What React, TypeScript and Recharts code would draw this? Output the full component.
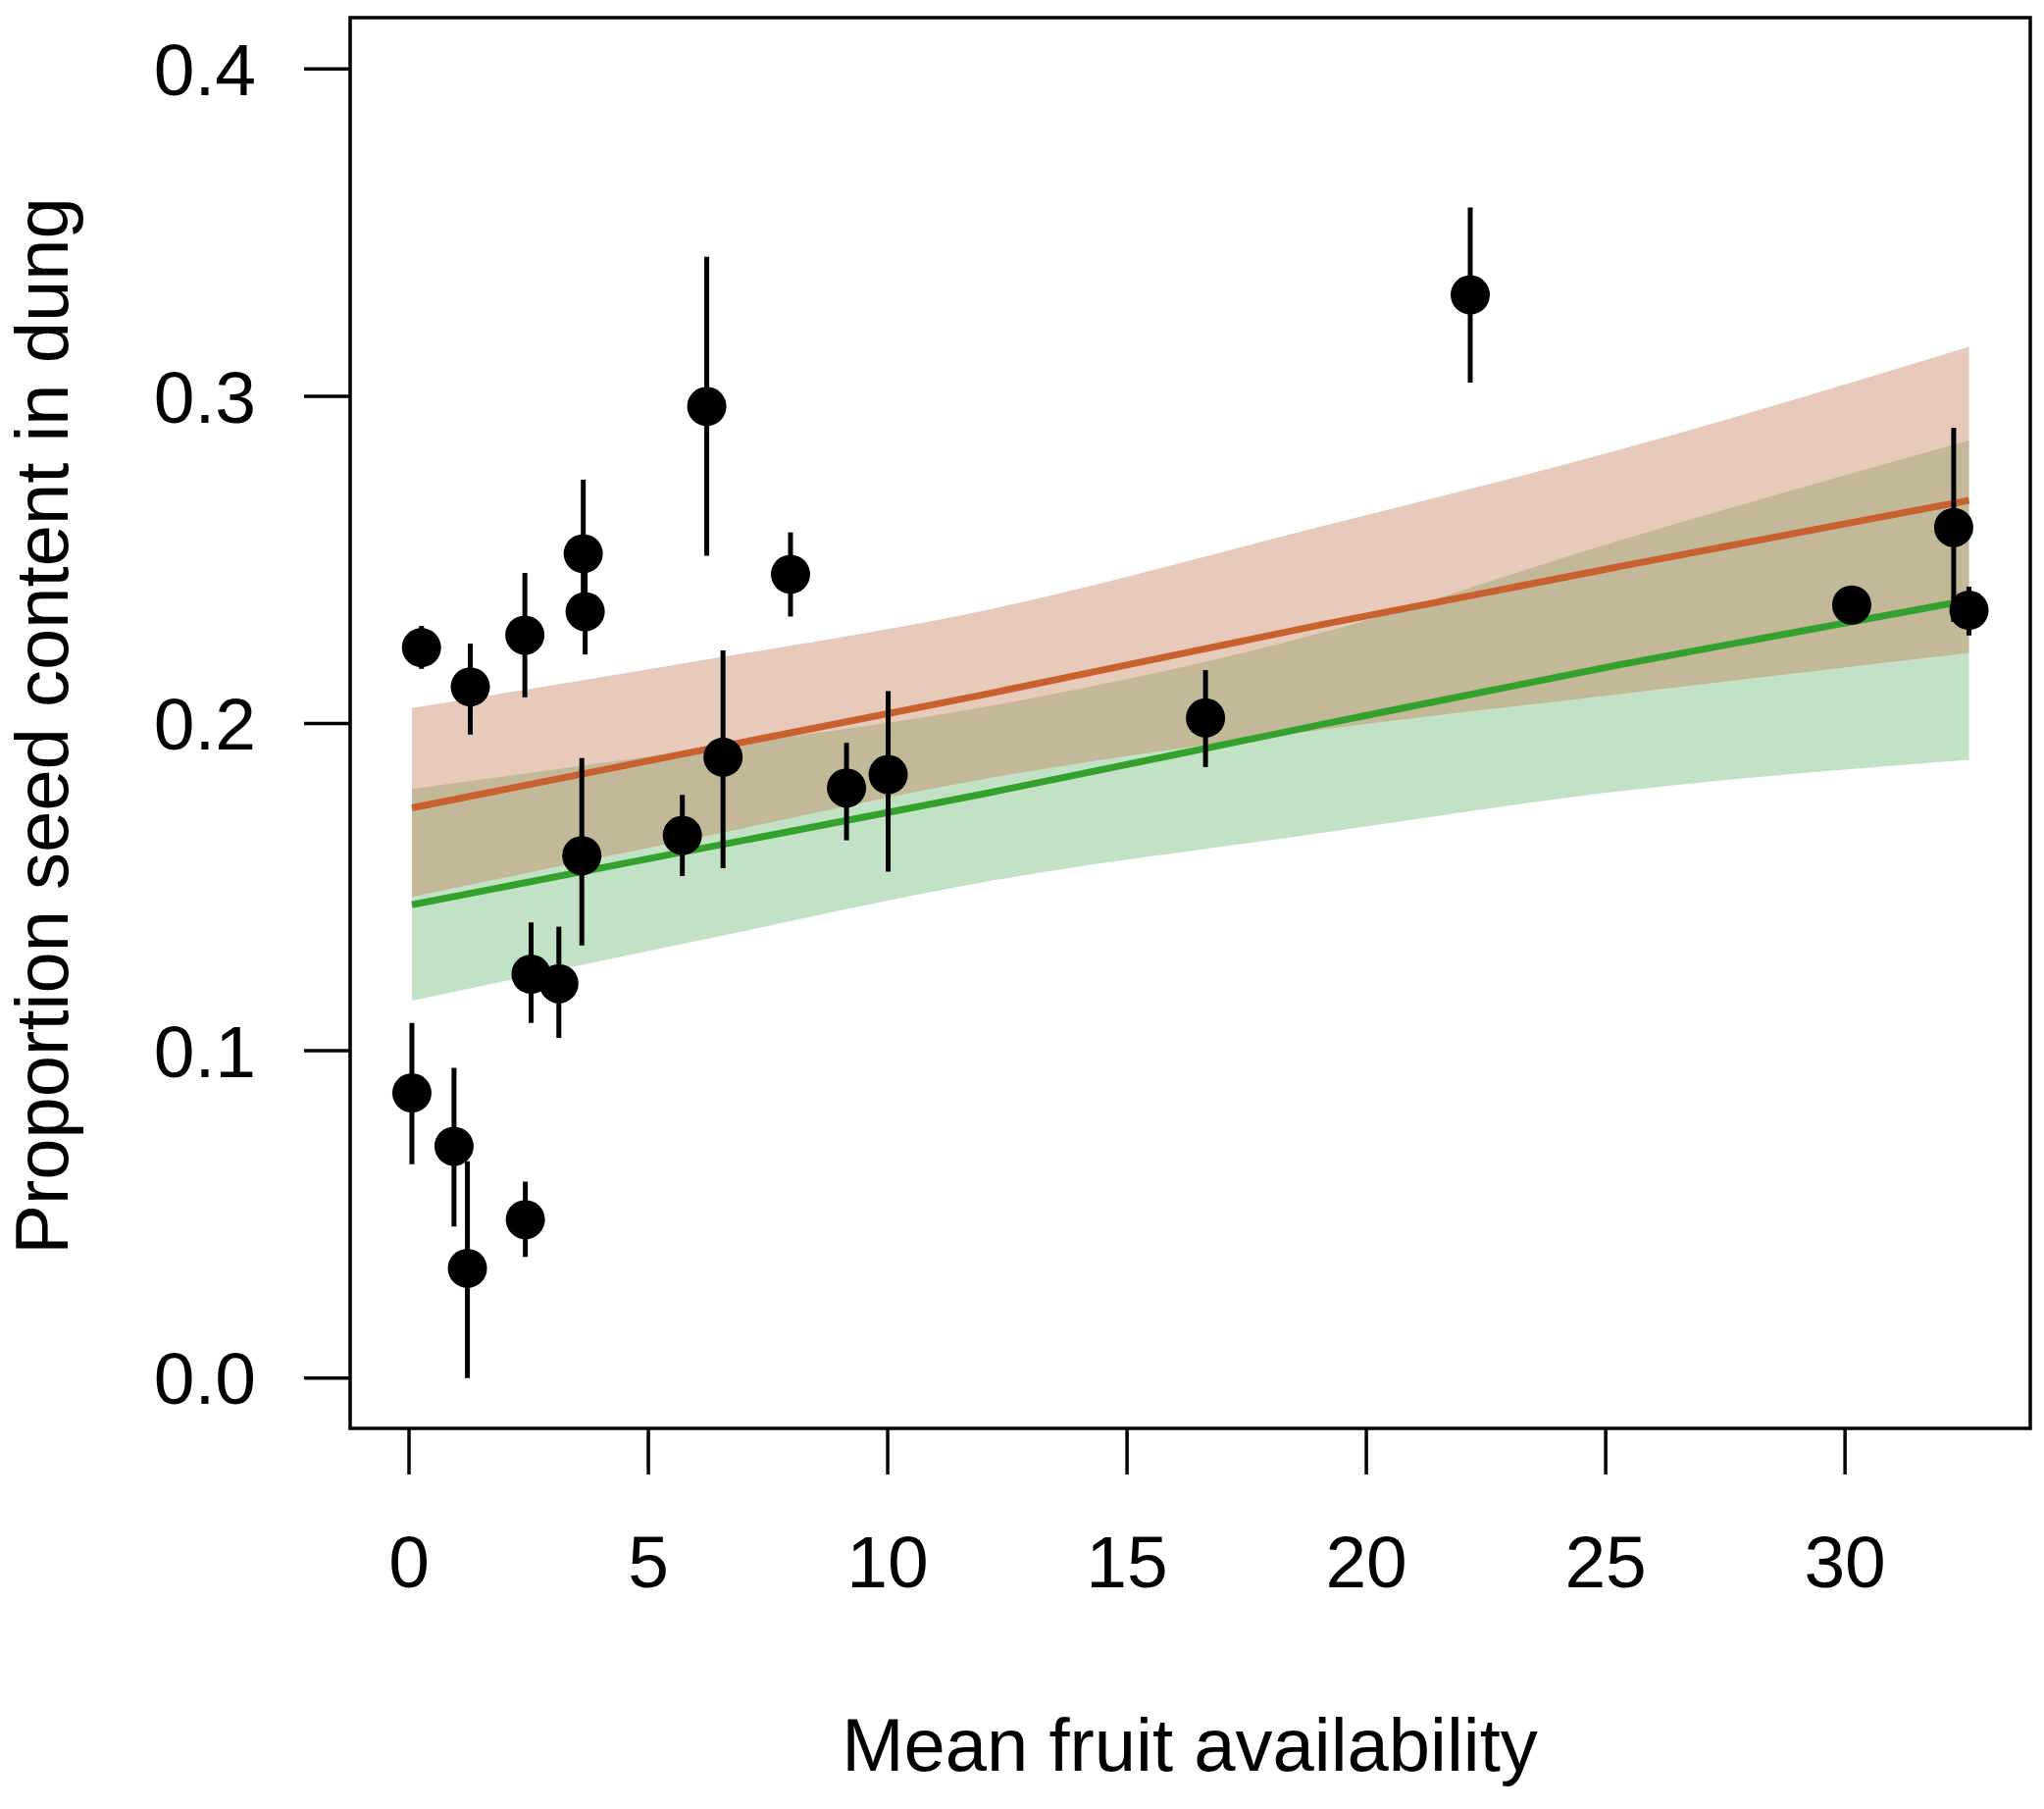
import React from "react";
import {
  ComposedChart,
  Area,
  Line,
  Scatter,
  ErrorBar,
  XAxis,
  YAxis,
  ReferenceArea,
} from "recharts";

// ---- Fitted curves and confidence bands ----
const bandX = [0.06, 6, 12, 19, 25.3, 32.59];
const orangeFit = [0.1742, 0.1915, 0.2088, 0.23, 0.248, 0.2682];
const orangeLow = [0.147, 0.165, 0.183, 0.198, 0.209, 0.2216];
const orangeHigh = [0.2047, 0.219, 0.2345, 0.26, 0.2837, 0.3151];
const greenFit = [0.1446, 0.1615, 0.1785, 0.1995, 0.218, 0.2377];
const greenLow = [0.1153, 0.1335, 0.1515, 0.1664, 0.1793, 0.1889];
const greenHigh = [0.18, 0.192, 0.205, 0.2275, 0.256, 0.2865];

// ---- Observed points with error bars ----
const ptX = [
  0.06, 0.26, 0.94, 1.22, 1.28, 2.42, 2.43, 2.55, 3.13, 3.61, 3.64, 3.68,
  5.71, 6.22, 6.56, 7.97, 9.14, 10.01, 16.64, 22.17, 30.14, 32.27, 32.59,
];
const ptY = [
  0.0871, 0.2232, 0.0708, 0.0335, 0.2112, 0.227, 0.0484, 0.1234, 0.1205,
  0.1596, 0.2519, 0.2342, 0.1658, 0.2969, 0.1897, 0.2456, 0.1803, 0.1844,
  0.2017, 0.331, 0.2362, 0.2599, 0.2346,
];
const ptLow = [
  0.0653, 0.2167, 0.0463, 0.0, 0.1966, 0.208, 0.037, 0.1085, 0.1039, 0.1322,
  0.239, 0.2211, 0.1534, 0.2513, 0.1558, 0.2327, 0.1643, 0.1547, 0.1867,
  0.3042, 0.233, 0.231, 0.2269,
];
const ptHigh = [
  0.1085, 0.2298, 0.0948, 0.0662, 0.2244, 0.246, 0.06, 0.1392, 0.1379, 0.1894,
  0.2745, 0.248, 0.1782, 0.3426, 0.2223, 0.2584, 0.1941, 0.2099, 0.2163,
  0.3577, 0.2395, 0.2904, 0.2418,
];

// ---- Axes ----
const xTicks = [0, 5, 10, 15, 20, 25, 30];
const yTicks = [0, 0.1, 0.2, 0.3, 0.4];
const xDomain: [number, number] = [-1.23, 33.87];
const yDomain: [number, number] = [-0.0154, 0.4157];
const xTitle = "Mean fruit availability";
const yTitle = "Proportion seed content in dung";

const bandRows = bandX.map((x, i) => ({
  x,
  orangeBand: [orangeLow[i], orangeHigh[i]],
  greenBand: [greenLow[i], greenHigh[i]],
  orangeFit: orangeFit[i],
  greenFit: greenFit[i],
}));

const pointRows = ptX.map((x, i) => ({
  x,
  y: ptY[i],
  err: [ptY[i] - ptLow[i], ptHigh[i] - ptY[i]],
}));

const FONT = "'Liberation Sans', Arial, Helvetica, sans-serif";

const Dot = (props: any) => {
  const { cx, cy } = props;
  if (cx == null || cy == null) return null;
  return <circle cx={cx} cy={cy} r={20} fill="#000" />;
};

export default function App() {
  return (
    <div style={{ width: 2084, height: 1844, background: "#fff" }}>
      <style>{"body{margin:0;background:#fff}"}</style>
      <ComposedChart
        width={2084}
        height={1844}
        data={bandRows}
        margin={{ top: 18, right: 14, left: 0, bottom: 0 }}
      >
        <XAxis
          dataKey="x"
          type="number"
          domain={xDomain}
          allowDataOverflow
          ticks={xTicks}
          height={388}
          axisLine={false}
          tickLine={{ stroke: "#000", strokeWidth: 3.5 }}
          tickSize={47}
          tickMargin={62}
          tick={{ fill: "#000", fontSize: 75, fontFamily: FONT }}
          label={(p: any) => (
            <text
              x={1213}
              y={1805}
              textAnchor="middle"
              fontSize={76}
              fontFamily={FONT}
              fill="#000"
            >
              {xTitle}
            </text>
          )}
        />
        <YAxis
          type="number"
          domain={yDomain}
          allowDataOverflow
          ticks={yTicks}
          width={357}
          axisLine={false}
          tickLine={{ stroke: "#000", strokeWidth: 3.5 }}
          tickSize={47}
          tickMargin={49}
          tickFormatter={(v: number) => v.toFixed(1)}
          tick={{ fill: "#000", fontSize: 75, fontFamily: FONT }}
          label={(p: any) => (
            <text
              x={69}
              y={740}
              transform="rotate(-90, 69, 740)"
              textAnchor="middle"
              fontSize={76}
              fontFamily={FONT}
              fill="#000"
            >
              {yTitle}
            </text>
          )}
        />
        <Area
          dataKey="greenBand"
          type="monotone"
          fill="rgb(81,172,89)"
          fillOpacity={0.35}
          stroke="none"
          isAnimationActive={false}
        />
        <Area
          dataKey="orangeBand"
          type="monotone"
          fill="rgb(197,122,85)"
          fillOpacity={0.4}
          stroke="none"
          isAnimationActive={false}
        />
        <Line
          dataKey="orangeFit"
          type="monotone"
          stroke="#c8602f"
          strokeWidth={7}
          dot={false}
          isAnimationActive={false}
        />
        <Line
          dataKey="greenFit"
          type="monotone"
          stroke="#34a12e"
          strokeWidth={7}
          dot={false}
          isAnimationActive={false}
        />
        <Scatter
          data={pointRows}
          dataKey="y"
          shape={<Dot />}
          isAnimationActive={false}
        >
          <ErrorBar
            dataKey="err"
            direction="y"
            width={0}
            stroke="#000"
            strokeWidth={5}
            isAnimationActive={false}
          />
        </Scatter>
        <ReferenceArea
          x1={xDomain[0]}
          x2={xDomain[1]}
          y1={yDomain[0]}
          y2={yDomain[1]}
          fill="none"
          fillOpacity={0}
          stroke="#000"
          strokeWidth={3.5}
          ifOverflow="visible"
        />
      </ComposedChart>
    </div>
  );
}
